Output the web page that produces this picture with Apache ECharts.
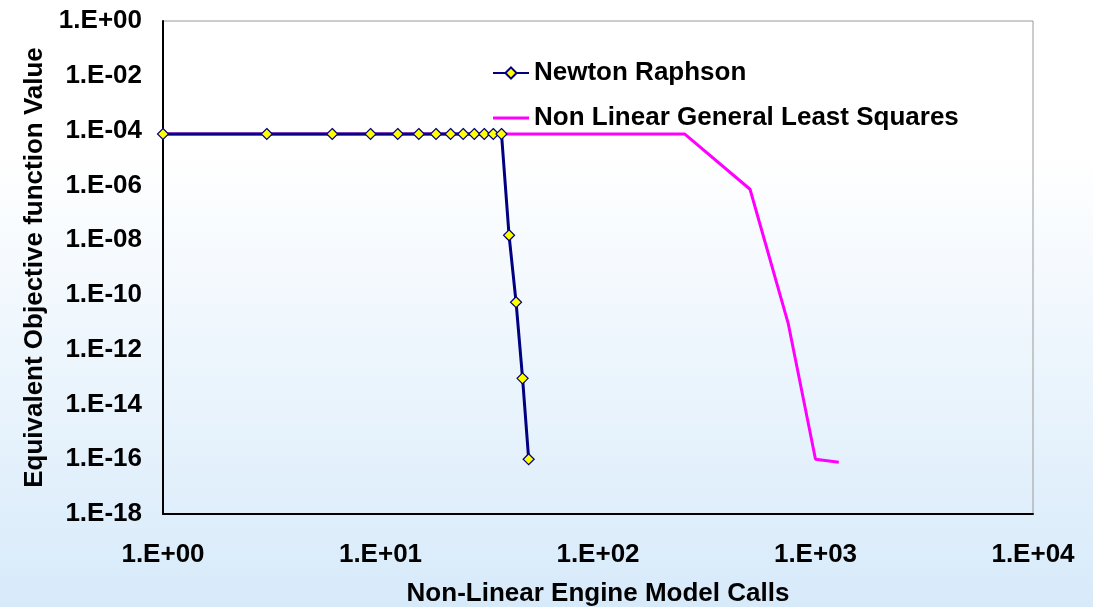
<!DOCTYPE html>
<html>
<head>
<meta charset="utf-8">
<script src="https://cdn.jsdelivr.net/npm/echarts@6/dist/echarts.min.js"></script>
<style>
  html, body { margin: 0; padding: 0; }
  #main { width: 1093px; height: 607px; }
</style>
</head>
<body>
<div id="main"></div>
<script>
// Newton Raphson: model calls vs objective value
const newtonCalls = [1, 3, 6, 9, 12, 15, 18, 21, 24, 27, 30, 33, 36, 39, 42, 45, 48];
const newtonValues = [7.5e-5, 7.5e-5, 7.5e-5, 7.5e-5, 7.5e-5, 7.5e-5, 7.5e-5, 7.5e-5, 7.5e-5,
	7.5e-5, 7.5e-5, 7.5e-5, 7.5e-5, 1.5e-8, 5.4e-11, 9e-14, 1e-16];

// Non Linear General Least Squares
const nlglsCalls = [1, 250, 500, 750, 1000, 1280];
const nlglsValues = [7.5e-5, 7.5e-5, 7.2e-7, 8.7e-12, 1e-16, 7.7e-17];

function sciLabel(v) {
	let e = Math.round(Math.log10(v));
	let s = Math.abs(e) < 10 ? '0' + Math.abs(e) : '' + Math.abs(e);
	return '1.E' + (e < 0 ? '-' : '+') + s;
}

let myChart = echarts.init(document.getElementById('main'));

let font = 'Liberation Sans, Arial, sans-serif';

let option = {
	backgroundColor: {
		type: 'linear',
		x: 0, y: 0, x2: 0, y2: 1,
		colorStops: [
			{ offset: 0, color: '#ffffff' },
			{ offset: 0.25, color: '#ffffff' },
			{ offset: 1, color: '#d7eafa' }
		]
	},
	animation: false,
	grid: {
		left: 163,
		top: 21,
		right: 60,
		bottom: 93,
		outerBoundsMode: 'none',
		containLabel: false,
		show: true,
		borderColor: '#9a9a9a',
		borderWidth: 1,
		backgroundColor: 'transparent'
	},
	legend: {
		orient: 'vertical',
		left: 487,
		top: 55,
		itemWidth: 36,
		itemHeight: 14,
		itemGap: 19,
		textStyle: {
			fontFamily: font,
			fontWeight: 'bold',
			fontSize: 26,
			color: '#000'
		},
		data: [
			{ name: 'Newton Raphson' },
			{ name: 'Non Linear General Least Squares', icon: 'path://M0,0 L36,0 L36,3 L0,3 Z' }
		]
	},
	xAxis: {
		type: 'log',
		logBase: 10,
		min: 1,
		max: 10000,
		name: 'Non-Linear Engine Model Calls',
		nameLocation: 'middle',
		nameGap: 67,
		nameTextStyle: {
			fontFamily: font,
			fontWeight: 'bold',
			fontSize: 26,
			color: '#000'
		},
		axisLine: { show: true, lineStyle: { color: '#000', width: 2 } },
		axisTick: { show: false },
		splitLine: { show: false },
		minorTick: { show: false },
		axisLabel: {
			margin: 28,
			fontFamily: font,
			fontWeight: 'bold',
			fontSize: 26,
			color: '#000',
			formatter: sciLabel
		}
	},
	yAxis: {
		type: 'log',
		logBase: 10,
		min: 1e-18,
		max: 1,
		interval: 2,
		name: 'Equivalent Objective function Value',
		nameLocation: 'middle',
		nameGap: 115,
		nameTextStyle: {
			fontFamily: font,
			fontWeight: 'bold',
			fontSize: 26,
			color: '#000'
		},
		axisLine: { show: true, lineStyle: { color: '#000', width: 2 } },
		axisTick: { show: false },
		splitLine: { show: false },
		axisLabel: {
			margin: 21,
			fontFamily: font,
			fontWeight: 'bold',
			fontSize: 26,
			color: '#000',
			formatter: sciLabel
		}
	},
	series: [{
		name: 'Non Linear General Least Squares',
		type: 'line',
		z: 1,
		symbol: 'none',
		lineStyle: { color: '#ff00ff', width: 3 },
		itemStyle: { color: '#ff00ff' },
		data: nlglsCalls.map((c, i) => [c, nlglsValues[i]])
	}, {
		name: 'Newton Raphson',
		type: 'line',
		z: 2,
		symbol: 'diamond',
		symbolSize: 11,
		lineStyle: { color: '#000080', width: 3 },
		itemStyle: { color: '#ffff00', borderColor: '#000080', borderWidth: 1.2 },
		data: newtonCalls.map((c, i) => [c, newtonValues[i]])
	}]
};

myChart.setOption(option);
</script>
</body>
</html>
